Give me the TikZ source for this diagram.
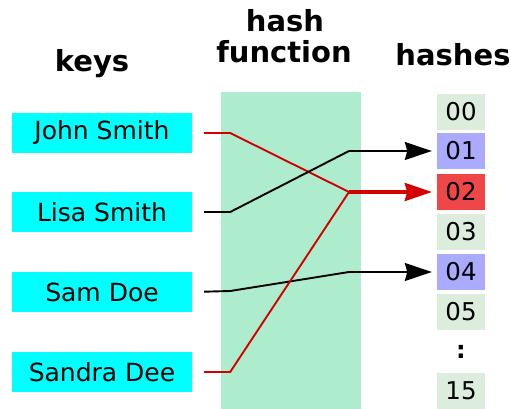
\documentclass[tikz,border=0pt]{standalone}
\usepackage{fontspec}
\setmainfont{DejaVu Sans}
\usetikzlibrary{arrows.meta}
\definecolor{keycyan}{HTML}{00FFFF}
\definecolor{hashgreen}{HTML}{ADEDCD}
\definecolor{cellplain}{HTML}{DDEDDD}
\definecolor{cellhit}{HTML}{AAAAFF}
\definecolor{cellclash}{HTML}{EF4747}
\definecolor{linered}{HTML}{D40000}
\begin{document}
\begin{tikzpicture}[x=1pt,y=-1pt,
  keybox/.style={fill=keycyan, minimum width=180pt, minimum height=40pt, inner sep=0pt, font=\fontsize{25}{30}\selectfont},
  hashbox/.style={minimum width=48pt, minimum height=36pt, inner sep=0pt, font=\fontsize{24.5}{29}\selectfont},
  heading/.style={anchor=base, inner sep=0pt, font=\fontsize{29}{32}\selectfont\bfseries},
  link/.style={line width=1.9pt, line join=round},
  hit/.style={-{Stealth[length=27pt,width=18pt,inset=2.5pt]}, shorten >=5pt}]
\def\keyx{102}
\def\hashx{461}
\def\bendx{38}
\useasboundingbox (0,0) rectangle (511,409);
% the hash function band
\fill[hashgreen] (221,92) rectangle (361,409);
% column titles
\node[heading] (keys) at (92,72) {keys};
\node[heading] (hashword) at (285,32) {hash};
\node[heading] (function) at (284,63) {function};
\node[heading] (hashes) at (453,66) {hashes};
% keys
\node[keybox] (john) at (\keyx,133) {John Smith};
\node[keybox] (lisa) at (\keyx,212) {Lisa Smith};
\node[keybox] (sam) at (\keyx,292) {Sam Doe};
\node[keybox] (sandra) at (\keyx,372) {Sandra Dee};
% hashes
\foreach \v/\y/\c in {00/112/cellplain, 01/151/cellhit, 02/192/cellclash, 03/232/cellplain, 04/272/cellhit, 05/312/cellplain, 15/391/cellplain}
  \node[hashbox, fill=\c] (v\v) at (\hashx,\y) {\v};
\node[inner sep=0pt, font=\fontsize{24}{28}\selectfont\bfseries] (more) at (\hashx,352) {:};
% where the lines meet
\coordinate (hub1) at (349,151);
\coordinate (hub2) at (349,192);
\coordinate (hub4) at (349,272);
\draw[link, linered, shorten <=12pt] (john.east) -- ++(\bendx,0) -- (hub2);
\draw[link, shorten <=12pt, hit] (lisa.east) -- ++(\bendx,0) -- (hub1) -- (v01.west);
\draw[link, shorten <=12pt, hit] (sam.east) -- ++(\bendx,-1) -- (hub4) -- (v04.west);
\draw[link, linered, shorten <=12pt] (sandra.east) -- ++(\bendx,0) -- (hub2);
\draw[line width=3.5pt, linered, hit] (hub2) -- (v02.west);
\end{tikzpicture}
\end{document}
